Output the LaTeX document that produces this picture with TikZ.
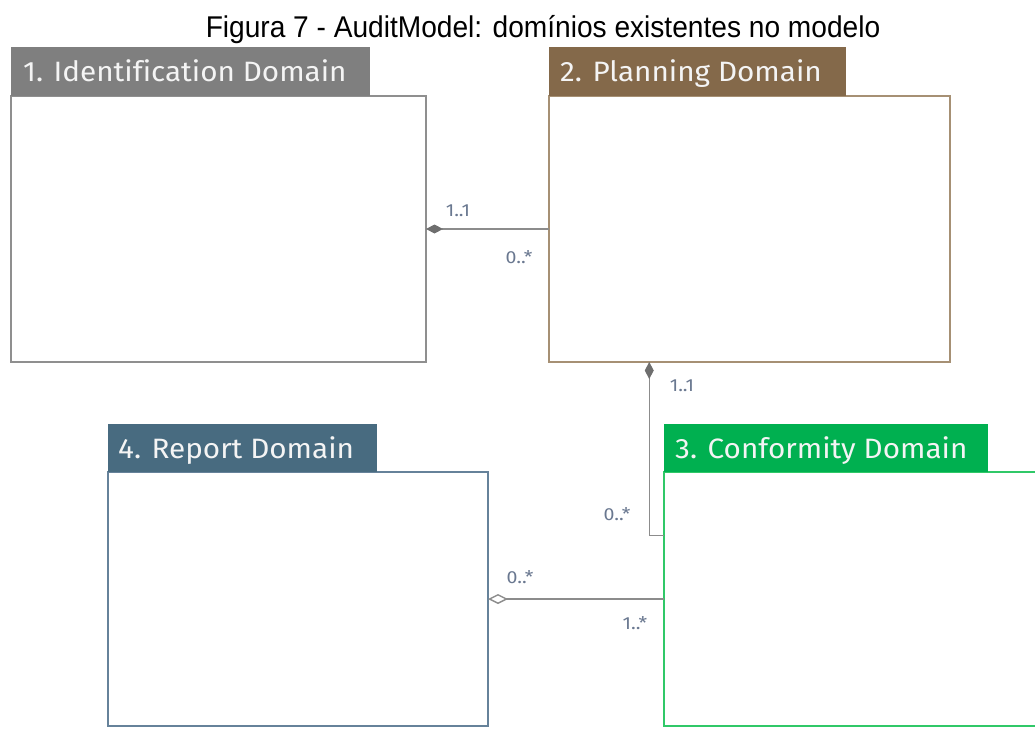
\documentclass[tikz,border=0pt]{standalone}
\usepackage{fontspec}
\setmainfont{Liberation Sans}
\newfontfamily\tabfont[Ligatures=NoCommon]{Fira Sans}
\usetikzlibrary{arrows.meta,calc}

\definecolor{idtab}{HTML}{7F7F7F}
\definecolor{idline}{HTML}{8F8F8F}
\definecolor{pltab}{HTML}{84694A}
\definecolor{plline}{HTML}{A69074}
\definecolor{cftab}{HTML}{00B050}
\definecolor{cfline}{HTML}{30C868}
\definecolor{rptab}{HTML}{486B80}
\definecolor{rpline}{HTML}{66829A}
\definecolor{linkc}{HTML}{8C8C8C}
\definecolor{diamc}{HTML}{6E6E6E}
\definecolor{multc}{HTML}{6A7890}
\definecolor{tabtxt}{HTML}{F4F4F4}

\tikzset{
  body/.style={draw=#1, line width=1.6pt, fill=white, rectangle, anchor=north west, inner sep=0pt, outer sep=0pt},
  tabbox/.style={fill=#1, draw=none, rectangle, anchor=north west, inner sep=0pt, outer sep=0pt},
  tabtitle/.style={font=\tabfont\fontsize{28}{28}\selectfont, text=tabtxt, anchor=base west, inner sep=0pt, xscale=1.06},
  link/.style={draw=linkc, line width=1.4pt},
  mult/.style={font=\tabfont\fontsize{17.5}{17.5}\selectfont, text=multc, inner sep=0pt, xscale=1.12},
  comp/.style={{Diamond[length=17pt,width=9pt,fill=diamc,color=diamc]}-},
  aggr/.style={{Diamond[open,length=20pt,width=10pt,color=linkc,fill=white]}-},
}

\begin{document}
\begin{tikzpicture}[x=1pt,y=-1pt]
\useasboundingbox (0,0) rectangle (1035,733);
\clip (0,0) rectangle (1035,733);

% caption
\node[font=\fontsize{30}{30}\selectfont, anchor=base, inner sep=0pt, xscale=0.937] (cap) at (543,37.5)
  {Figura 7 - AuditModel: domínios existentes no modelo};

% 1. Identification Domain
\node[body=idline, minimum width=415pt, minimum height=266pt] (b1) at (11,96) {};
\node[tabbox=idtab, minimum width=359pt, minimum height=49pt] (t1) at (11,47) {};
\node[tabtitle] (n1) at (23,82) {1. Identification Domain};

% 2. Planning Domain
\node[body=plline, minimum width=401pt, minimum height=266pt] (b2) at (549,96) {};
\node[tabbox=pltab, minimum width=297pt, minimum height=49pt] (t2) at (549,47) {};
\node[tabtitle] (n2) at (560,82) {2. Planning Domain};

% 3. Conformity Domain (runs past the right edge)
\node[body=cfline, minimum width=400pt, minimum height=254pt] (b3) at (664,472) {};
\node[tabbox=cftab, minimum width=324pt, minimum height=48pt] (t3) at (664,424) {};
\node[tabtitle] (n3) at (675,458) {3. Conformity Domain};

% 4. Report Domain
\node[body=rpline, minimum width=380pt, minimum height=254pt] (b4) at (108,472) {};
\node[tabbox=rptab, minimum width=269pt, minimum height=48pt] (t4) at (108,424) {};
\node[tabtitle] (n4) at (118,458) {4. Report Domain};

% associations
\draw[link, comp] (b1.east) -- (b2.west);
\node[mult] (m1a) at (458,211) {1..1};
\node[mult] (m1b) at (519,257) {0..*};

\coordinate (p2) at ($(b2.south west)!0.25!(b2.south east)$);
\coordinate (p3) at ($(b3.north west)!0.25!(b3.south west)$);
\draw[link, comp] (p2) |- (p3);
\node[mult] (m2a) at (682,386) {1..1};
\node[mult] (m2b) at (617,514) {0..*};

\draw[link, aggr] (b4.east) -- (b4.east -| b3.west);
\node[mult] (m3a) at (520,577) {0..*};
\node[mult] (m3b) at (635,623) {1..*};
\end{tikzpicture}
\end{document}
